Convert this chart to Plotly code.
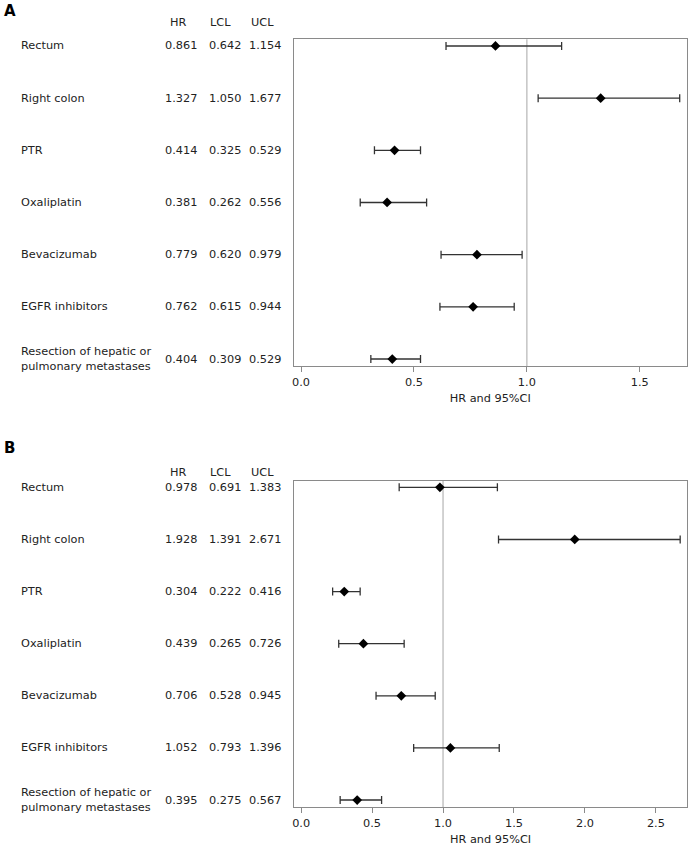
import plotly.graph_objects as go

# covariaveis (mesma ordem nos dois paineis)
fatores = ["Rectum", "Right colon", "PTR", "Oxaliplatin", "Bevacizumab",
           "EGFR inhibitors", "Resection of hepatic or<br>pulmonary metastases"]

# painel A
hr_a = [0.861, 1.327, 0.414, 0.381, 0.779, 0.762, 0.404]
lcl_a = [0.642, 1.050, 0.325, 0.262, 0.620, 0.615, 0.309]
ucl_a = [1.154, 1.677, 0.529, 0.556, 0.979, 0.944, 0.529]

# painel B
hr_b = [0.978, 1.928, 0.304, 0.439, 0.706, 1.052, 0.395]
lcl_b = [0.691, 1.391, 0.222, 0.265, 0.528, 0.793, 0.275]
ucl_b = [1.383, 2.671, 0.416, 0.726, 0.945, 1.396, 0.567]

ticks_a = [0, 0.5, 1.0, 1.5]
ticks_b = [0, 0.5, 1.0, 1.5, 2.0, 2.5]

W, H = 688, 855
fonte = "DejaVu Sans"
cor_txt = "#222222"
tam = 11.3
linhas = list(range(len(fatores)))

fig = go.Figure()

paineis = [
    ("A", hr_a, lcl_a, ucl_a, "x", "y", 10.5, 22.7),
    ("B", hr_b, lcl_b, ucl_b, "x2", "y2", 448, 472),
]

anots = []
for letra, hr, lcl, ucl, xr, yr, y_letra, y_cab in paineis:
    fig.add_trace(go.Scatter(
        x=hr, y=linhas, xaxis=xr, yaxis=yr,
        mode="markers",
        marker=dict(symbol="diamond", size=7.5, color="black"),
        error_x=dict(type="data", symmetric=False,
                     array=[u - h for u, h in zip(ucl, hr)],
                     arrayminus=[h - l for h, l in zip(hr, lcl)],
                     color="#333333", thickness=1.3, width=4),
        showlegend=False, hoverinfo="skip",
    ))
    # linha de referencia HR = 1
    fig.add_shape(type="line", xref=xr, yref=yr + " domain", x0=1, x1=1, y0=0, y1=1,
                  line=dict(color="#c4c4c4", width=1.5), layer="below")

    anots.append(dict(text="<b>" + letra + "</b>", xref="paper", yref="paper",
                      x=0, y=1 - y_letra / H, xanchor="left", yanchor="middle",
                      showarrow=False, font=dict(size=15, color="black", family=fonte)))
    for nome, xc in [("HR", 176.5), ("LCL", 219.5), ("UCL", 261.5)]:
        anots.append(dict(text=nome, xref="paper", yref="paper", x=xc / W, y=1 - y_cab / H,
                          xanchor="center", yanchor="middle", showarrow=False,
                          font=dict(size=tam, color=cor_txt, family=fonte)))
    for i, nome in enumerate(fatores):
        anots.append(dict(text=nome, xref="paper", yref=yr, x=17 / W, y=i,
                          xanchor="left", yanchor="middle", align="left", showarrow=False,
                          font=dict(size=tam, color=cor_txt, family=fonte)))
        for val, xc in [(hr[i], 179.3), (lcl[i], 223.8), (ucl[i], 263.5)]:
            anots.append(dict(text=f"{val:.3f}", xref="paper", yref=yr, x=xc / W, y=i,
                              xanchor="center", yanchor="middle", showarrow=False,
                              font=dict(size=tam, color=cor_txt, family=fonte)))

eixo_x = dict(showgrid=False, zeroline=False, showline=True, mirror=True,
              linecolor="#8a8a8a", linewidth=1.3, ticks="outside", ticklen=5,
              tickcolor="#8a8a8a", tickwidth=1, tickformat=".1f",
              tickfont=dict(size=tam, color=cor_txt, family=fonte),
              title=dict(text="HR and 95%CI", standoff=6,
                         font=dict(size=tam, color=cor_txt, family=fonte)))
eixo_y = dict(showgrid=False, zeroline=False, showline=True, mirror=True,
              linecolor="#8a8a8a", linewidth=1.3, showticklabels=False, ticks="",
              range=[6.134, -0.128])

fig.update_layout(
    width=W, height=H,
    margin=dict(l=0, r=0, t=0, b=0),
    paper_bgcolor="white", plot_bgcolor="white",
    font=dict(family=fonte, size=tam, color=cor_txt),
    xaxis=dict(eixo_x, domain=[292.7 / W, 686.7 / W], anchor="y",
               range=[-0.032, 1.708], tickvals=ticks_a),
    yaxis=dict(eixo_y, domain=[1 - 366 / H, 1 - 39.3 / H], anchor="x"),
    xaxis2=dict(eixo_x, domain=[293.3 / W, 686.7 / W], anchor="y2",
                range=[-0.047, 2.717], tickvals=ticks_b),
    yaxis2=dict(eixo_y, domain=[1 - 807 / H, 1 - 480.7 / H], anchor="x2"),
    annotations=anots,
)

# tira a margem padrao do body para a figura ocupar a janela toda
fig.write_html("out.html", config={"displayModeBar": False},
               post_script="document.body.style.margin='0';")
